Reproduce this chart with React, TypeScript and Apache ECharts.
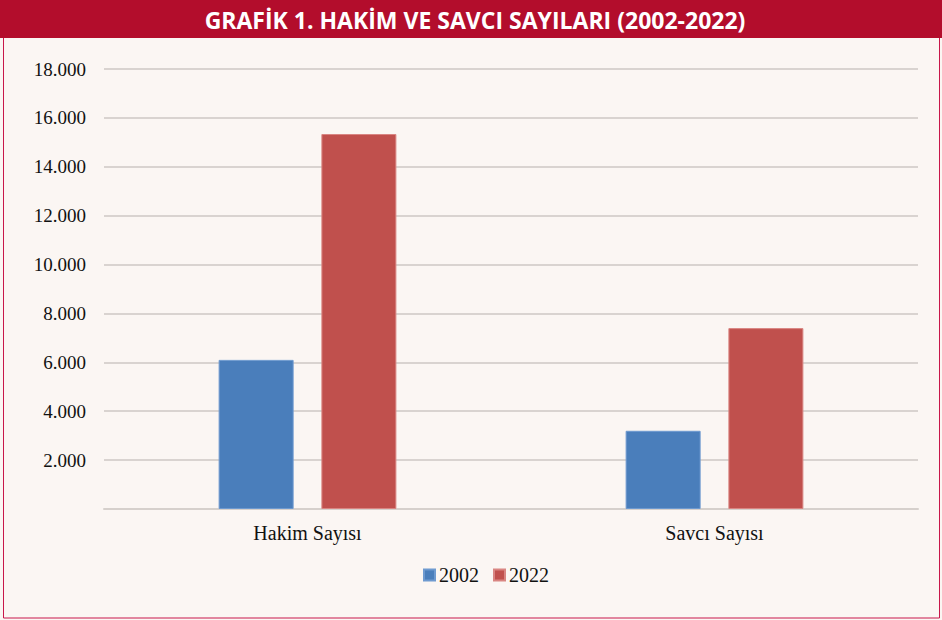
import React, { useEffect, useRef } from "react";
import * as echarts from "echarts";

const categories = ["Hakim Sayısı", "Savcı Sayısı"];
const seriesNames = ["2002", "2022"];
const values2002 = [6100, 3200];
const values2022 = [15340, 7400];
const titleText = "GRAFİK 1. HAKİM VE SAVCI SAYILARI (2002-2022)";

const serif = "Liberation Serif";

export default function App() {
  const ref = useRef<HTMLDivElement>(null);
  useEffect(() => {
    if (!ref.current) return;
    const chart = echarts.init(ref.current, undefined, { renderer: "svg" });
    chart.setOption({
      animation: false,
      backgroundColor: "#FBF6F3",
      graphic: [
        { type: "rect", shape: { x: 3.5, y: 0, width: 936, height: 618 }, style: { fill: "none", stroke: "#C8174A", lineWidth: 1 }, z: 10 },
        { type: "rect", shape: { x: 0, y: 0, width: 942, height: 38 }, style: { fill: "#B30D2C" }, z: 11 },
        {
          type: "text",
          x: 475,
          y: 20,
          style: {
            text: titleText,
            fill: "#FFFFFF",
            fontFamily: "Open Sans",
            fontWeight: "bold",
            fontSize: 23,
            align: "center",
            verticalAlign: "middle",
          },
          z: 12,
        },
      ],
      legend: {
        data: seriesNames,
        bottom: 30,
        left: 418,
        itemWidth: 11,
        itemHeight: 11,
        itemGap: 14,
        icon: "rect",
        textStyle: { fontFamily: serif, fontSize: 20, color: "#111", padding: [0, 0, 0, -1] },
      },
      grid: { left: 104, right: 24, top: 69, bottom: 111 },
      xAxis: {
        type: "category",
        data: categories,
        axisTick: { show: false },
        axisLine: { lineStyle: { color: "#D6D0CC", width: 2 } },
        axisLabel: { fontFamily: serif, fontSize: 20, color: "#111", margin: 14 },
      },
      yAxis: {
        type: "value",
        min: 0,
        max: 18000,
        interval: 2000,
        axisLine: { show: false },
        axisTick: { show: false },
        splitLine: { lineStyle: { color: "#D9D3D0", width: 2 } },
        axisLabel: {
          fontFamily: serif,
          fontSize: 19,
          color: "#111",
          margin: 18,
          formatter: (v: number) => (v === 0 ? "" : (v / 1000).toFixed(0) + ".000"),
        },
      },
      series: [
        {
          name: seriesNames[0],
          type: "bar",
          data: values2002,
          barWidth: 75,
          barGap: "37%",
          itemStyle: { color: "#4A7EBB", borderColor: "#6E9AD0", borderWidth: 1 },
        },
        {
          name: seriesNames[1],
          type: "bar",
          data: values2022,
          barWidth: 75,
          itemStyle: { color: "#C0504D", borderColor: "#D98582", borderWidth: 1 },
        },
      ],
    });
    return () => chart.dispose();
  }, []);
  return (
    <div style={{ position: "fixed", left: 0, top: 0, width: 942, height: 620 }}>
      <div ref={ref} style={{ width: 942, height: 620 }} />
    </div>
  );
}
